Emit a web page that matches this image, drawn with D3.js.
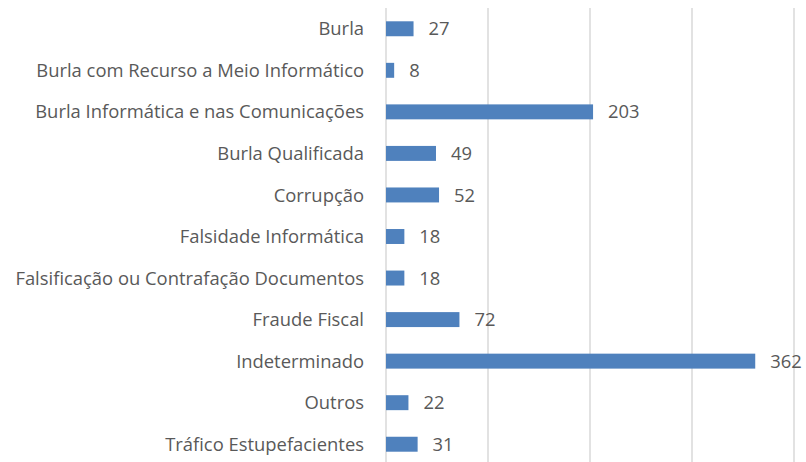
<!DOCTYPE html>
<html>
<head>
<meta charset="utf-8">
<script src="https://cdn.jsdelivr.net/npm/d3@7"></script>
<style>
  body { margin: 0; background: #fff; }
  text { font-family: "Open Sans", sans-serif; fill: #595959; }
</style>
</head>
<body>
<div id="chart"></div>
<script>
const categories = ['Burla', 'Burla com Recurso a Meio Informático', 'Burla Informática e nas Comunicações',
    'Burla Qualificada', 'Corrupção', 'Falsidade Informática', 'Falsificação ou Contrafação Documentos',
    'Fraude Fiscal', 'Indeterminado', 'Outros', 'Tráfico Estupefacientes'];
const values = [27, 8, 203, 49, 52, 18, 18, 72, 362, 22, 31];
const gridTicks = [0, 100, 200, 300, 400];

const width = 806;
const height = 462;
const margin = {top: 8, right: 12, bottom: -3, left: 386};

const svg = d3.select('#chart').append('svg')
    .attr('width', width)
    .attr('height', height);

const x = d3.scaleLinear()
    .domain([0, 400])
    .range([margin.left, width - margin.right]);

const y = d3.scaleBand()
    .domain(categories)
    .range([margin.top, height - margin.bottom])
    .paddingInner(0.64)
    .paddingOuter(0.32);

// vertical gridlines
svg.append('g')
    .selectAll('line')
    .data(gridTicks)
    .join('line')
        .attr('x1', d => x(d))
        .attr('x2', d => x(d))
        .attr('y1', margin.top)
        .attr('y2', height)
        .attr('stroke', '#d9d9d9')
        .attr('stroke-width', 1.5);

svg.append('g')
    .selectAll('rect')
    .data(values)
    .join('rect')
        .attr('x', x(0))
        .attr('y', (d, i) => y(categories[i]))
        .attr('width', d => x(d) - x(0))
        .attr('height', y.bandwidth())
        .attr('fill', '#4f81bd');

// value labels
svg.append('g')
    .selectAll('text')
    .data(values)
    .join('text')
        .attr('x', d => x(d) + 15)
        .attr('y', (d, i) => y(categories[i]) + y.bandwidth() / 2)
        .attr('dy', '0.36em')
        .style('font-size', '18.4px')
        .text(d => d);

// category labels
svg.append('g')
    .selectAll('text')
    .data(categories)
    .join('text')
        .attr('x', 364)
        .attr('y', d => y(d) + y.bandwidth() / 2)
        .attr('dy', '0.36em')
        .attr('text-anchor', 'end')
        .style('font-size', '18.4px')
        .text(d => d);
</script>
</body>
</html>
